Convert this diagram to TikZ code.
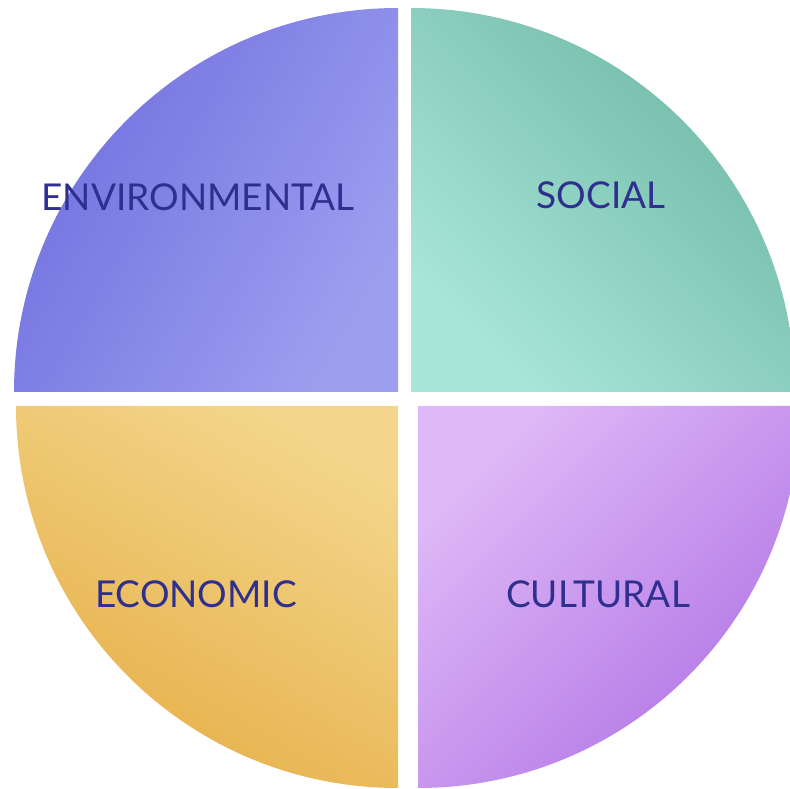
\documentclass[tikz,border=0pt]{standalone}
\usepackage{fontspec}
\setmainfont{Lato}
\usepackage{tikz}

\definecolor{navy}{HTML}{2E2F8F}
\definecolor{envdark}{HTML}{7070DF}
\definecolor{envlight}{HTML}{9E9EF0}
\definecolor{socdark}{HTML}{6FB8A5}
\definecolor{soclight}{HTML}{A8E6D8}
\definecolor{ecolight}{HTML}{F3D68B}
\definecolor{ecodark}{HTML}{E6AF48}
\definecolor{cullight}{HTML}{DFB9F7}
\definecolor{culdark}{HTML}{B174E5}

\begin{document}
\begin{tikzpicture}[x=1pt, y=1pt,
  qtext/.style={text=navy, font=\fontsize{37}{40}\selectfont, inner sep=0pt}]
  \useasboundingbox (0,0) rectangle (790,789);
  \clip (0,0) rectangle (790,789);

  % four quarters, white cross left between them
  \shade[top color=envdark, bottom color=envlight, shading angle=60]
    (398,397) -- (14,397) arc[start angle=180, end angle=90, radius=384pt] -- cycle;
  \shade[top color=socdark, bottom color=soclight, shading angle=-45]
    (411,397) -- (411,781) arc[start angle=90, end angle=0, radius=384pt] -- cycle;
  \shade[top color=ecolight, bottom color=ecodark, shading angle=-30]
    (398,383) -- (398,1) arc[start angle=270, end angle=180, radius=382pt] -- cycle;
  \shade[top color=cullight, bottom color=culdark, shading angle=45]
    (418,383) -- (800,383) arc[start angle=0, end angle=-90, radius=382pt] -- cycle;

  \node[qtext] (env) at (198,592) {ENVIRONMENTAL};
  \node[qtext] (soc) at (601,594) {SOCIAL};
  \node[qtext] (eco) at (196,195) {ECONOMIC};
  \node[qtext] (cul) at (598,195) {CULTURAL};
\end{tikzpicture}
\end{document}
